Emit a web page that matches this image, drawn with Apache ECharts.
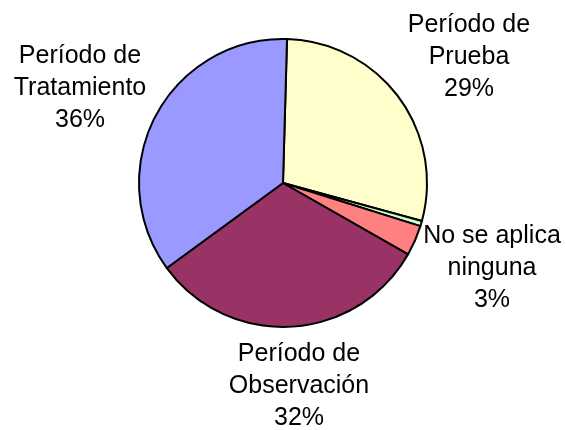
<!DOCTYPE html>
<html>
<head>
<meta charset="utf-8">
<script src="https://cdn.jsdelivr.net/npm/echarts@6/dist/echarts.min.js"></script>
<style>
html,body{margin:0;padding:0;background:#fff;}
#chart{width:566px;height:430px;}
</style>
</head>
<body>
<div id="chart"></div>
<script>
// Data
var categories = ["Período de\nPrueba", "", "No se aplica\nninguna", "Período de\nObservación", "Período de\nTratamiento"];
var values = [28.8, 0.6, 3.4, 31.7, 35.5];
var colors = ["#FFFFCC", "#CCFFCC", "#FF8080", "#993366", "#9999FF"];

// Label placement (style)
var labelPos = [[469, 57], null, [492, 268], [299, 386], [80, 88]];

var chart = echarts.init(document.getElementById('chart'));
chart.setOption({
  animation: false,
  backgroundColor: '#ffffff',
  series: [{
    type: 'pie',
    center: [283, 183],
    radius: [0, 144],
    startAngle: 88.4,
    clockwise: true,
    avoidLabelOverlap: false,
    data: categories.map(function (c, i) {
      return {
        name: c,
        value: values[i],
        itemStyle: { color: colors[i] },
        label: { show: c !== "" }
      };
    }),
    itemStyle: { borderColor: '#000', borderWidth: 2 },
    label: {
      position: 'outside',
      formatter: function (p) { return p.name + '\n' + Math.round(p.percent) + '%'; },
      fontFamily: 'Liberation Sans, Arial, sans-serif',
      fontSize: 25,
      lineHeight: 32,
      color: '#000',
      align: 'center'
    },
    labelLine: { show: false },
    labelLayout: function (params) {
      var p = labelPos[params.dataIndex];
      if (!p) return {};
      return { x: p[0], y: p[1], align: 'center', verticalAlign: 'middle' };
    },
    emphasis: { disabled: true }
  }]
});
</script>
</body>
</html>
